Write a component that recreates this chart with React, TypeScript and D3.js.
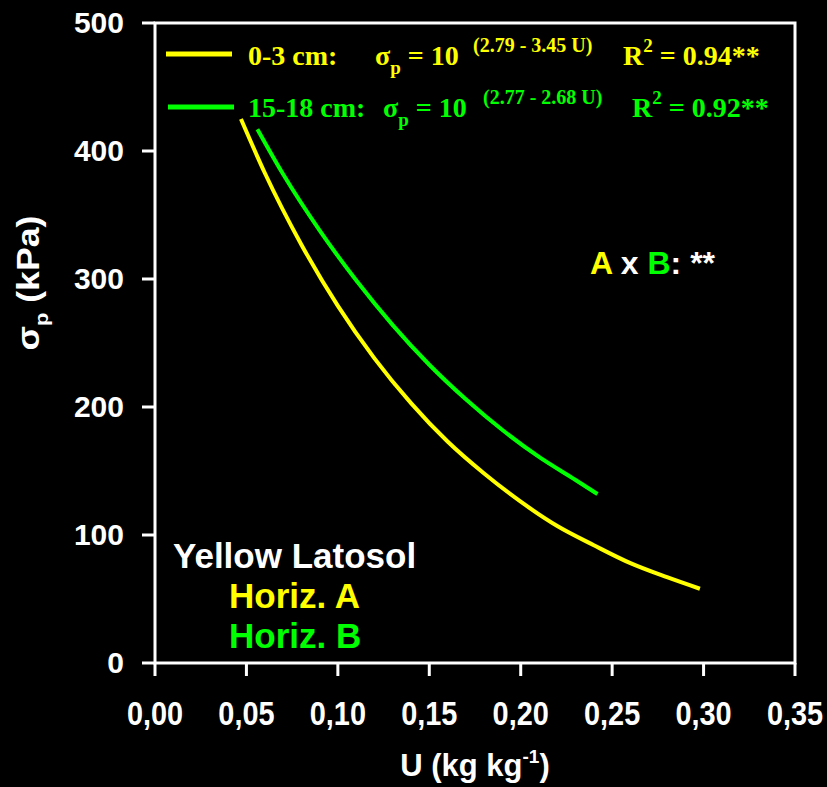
import React from 'react';
import * as d3 from 'd3';

// moisture (kg/kg) vs preconsolidation pressure (kPa)
const uHorizA = [0.047, 0.06, 0.08, 0.10, 0.12, 0.14, 0.16, 0.18, 0.20, 0.22, 0.24, 0.26, 0.28, 0.298];
const sigmaHorizA = [425, 383, 327, 279, 238, 203, 173, 148, 126, 107, 92, 78, 67, 58];
const uHorizB = [0.056, 0.07, 0.09, 0.11, 0.13, 0.15, 0.17, 0.19, 0.21, 0.23, 0.242];
const sigmaHorizB = [417, 382, 338, 299, 264, 233, 206, 182, 161, 143, 132];

const xTicks = [0, 0.05, 0.10, 0.15, 0.20, 0.25, 0.30, 0.35];
const yTicks = [0, 100, 200, 300, 400, 500];

const W = 827, H = 787;
const left = 155, right = 795, top = 23, bottom = 663;
const YELLOW = '#ffff00';
const GREEN = '#00ff00';
const sans = 'Liberation Sans, Arial, sans-serif';
const serif = 'Liberation Serif, Times New Roman, serif';

function App() {
  const x = d3.scaleLinear().domain([0, 0.35]).range([left, right]);
  const y = d3.scaleLinear().domain([0, 500]).range([bottom, top]);

  const line = d3.line<[number, number]>()
    .x(d => x(d[0]))
    .y(d => y(d[1]))
    .curve(d3.curveMonotoneX);

  const ptsA = uHorizA.map((u, i) => [u, sigmaHorizA[i]] as [number, number]);
  const ptsB = uHorizB.map((u, i) => [u, sigmaHorizB[i]] as [number, number]);

  const fmt = (v: number) => v.toFixed(2).replace('.', ',');

  return (
    <svg width={W} height={H} style={{ position: 'absolute', left: 0, top: 0, background: '#000' }}>
      <rect width={W} height={H} fill="#000" />

      {/* frame */}
      <rect x={left} y={top} width={right - left} height={bottom - top} fill="none" stroke="#fff" strokeWidth={3} />

      {/* y ticks */}
      {yTicks.map(t => (
        <g key={t}>
          <line x1={left - 13} x2={left} y1={y(t)} y2={y(t)} stroke="#fff" strokeWidth={3} />
          <text x={124} y={y(t) + 10} textAnchor="end" fill="#fff" fontFamily={sans} fontWeight="bold" fontSize={30}>{t}</text>
        </g>
      ))}

      {/* x ticks */}
      {xTicks.map(t => (
        <g key={t}>
          <line x1={x(t)} x2={x(t)} y1={bottom} y2={bottom + 13} stroke="#fff" strokeWidth={3} />
          <text transform={`translate(${x(t)},725) scale(0.85,1)`} textAnchor="middle" fill="#fff" fontFamily={sans} fontWeight="bold" fontSize={34}>{fmt(t)}</text>
        </g>
      ))}

      {/* axis titles */}
      <text x={475} y={776} textAnchor="middle" fill="#fff" fontFamily={sans} fontWeight="bold" fontSize={31}>
        U (kg kg<tspan dy={-13} fontSize={19}>-1</tspan><tspan dy={13}>)</tspan>
      </text>
      <text transform="translate(39,283) rotate(-90) scale(1.15,1)" textAnchor="middle" fill="#fff" fontFamily={sans} fontWeight="bold" fontSize={31}>
        σ<tspan dy={9} fontSize={19}>p</tspan><tspan dy={-9}> (kPa)</tspan>
      </text>

      {/* curves */}
      <path d={line(ptsB) || ''} fill="none" stroke={GREEN} strokeWidth={4} />
      <path d={line(ptsA) || ''} fill="none" stroke={YELLOW} strokeWidth={4} />

      {/* legend */}
      <line x1={166} x2={232} y1={54} y2={54} stroke={YELLOW} strokeWidth={5} />
      <g fill={YELLOW} fontFamily={serif} fontWeight="bold" fontSize={28}>
        <text x={248} y={65}>0-3 cm:</text>
        <text x={375} y={65}>σ<tspan dy={9} fontSize={19}>p</tspan><tspan dy={-9}> = 10</tspan></text>
        <text x={473} y={52} fontSize={20}>(2.79 - 3.45 U)</text>
        <text x={623} y={65}>R<tspan dy={-13} fontSize={19}>2</tspan><tspan dy={13}> = 0.94**</tspan></text>
      </g>
      <line x1={168} x2={234} y1={107} y2={107} stroke={GREEN} strokeWidth={5} />
      <g fill={GREEN} fontFamily={serif} fontWeight="bold" fontSize={28}>
        <text x={248} y={117}>15-18 cm:</text>
        <text x={383} y={117}>σ<tspan dy={9} fontSize={19}>p</tspan><tspan dy={-9}> = 10</tspan></text>
        <text x={483} y={104} fontSize={20}>(2.77 - 2.68 U)</text>
        <text x={632} y={117}>R<tspan dy={-13} fontSize={19}>2</tspan><tspan dy={13}> = 0.92**</tspan></text>
      </g>

      {/* annotations */}
      <text x={590} y={274} fontFamily={sans} fontWeight="bold" fontSize={32} fill="#fff">
        <tspan fill={YELLOW}>A</tspan> x <tspan fill={GREEN}>B</tspan>: **
      </text>
      <g fontFamily={sans} fontWeight="bold" fontSize={35}>
        <text x={173} y={568} fill="#fff">Yellow Latosol</text>
        <text x={229} y={608} fill={YELLOW}>Horiz. A</text>
        <text x={229} y={648} fill={GREEN}>Horiz. B</text>
      </g>
    </svg>
  );
}

export default App;
